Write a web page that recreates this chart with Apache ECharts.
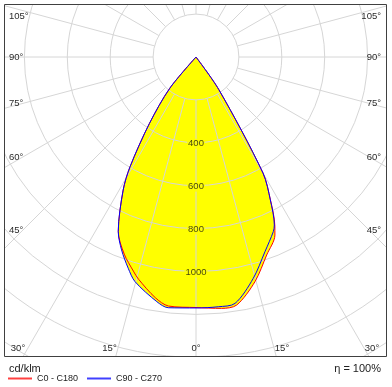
<!DOCTYPE html>
<html><head><meta charset="utf-8">
<script src="https://cdn.jsdelivr.net/npm/echarts@6/dist/echarts.min.js"></script>
<style>html,body{margin:0;padding:0;background:#fff}#c{width:392px;height:387px}</style>
</head><body><div id="c"></div>
<script>
// ---- data (gamma in degrees from nadir, intensity in cd/klm) ----
const c0LeftGamma  = [45, 40, 35, 31, 28.7, 24, 20, 16.3, 14.5, 9.6, 6.3, 0];
const c0LeftI      = [0, 190, 379, 597, 707, 891, 978, 1040, 1070, 1138, 1168, 1168];
const c0RightGamma = [5.8, 9.3, 14.7, 19.65, 23.9, 25, 27.5, 30, 35, 40];
const c0RightI     = [1178, 1172, 1083, 980, 908, 870, 752, 625, 185, 0];
const c90LeftGamma  = [45, 40, 35, 31, 28.7, 24, 21.1, 17.8, 15.2, 9.1, 6.3, 0];
const c90LeftI      = [0, 190, 379, 597, 707, 891, 964, 1034, 1085, 1155, 1176, 1170];
const c90RightGamma = [5.1, 9.0, 14.5, 19.5, 23.9, 25, 27.5, 30, 35, 40];
const c90RightI     = [1169, 1163, 1066, 963, 890, 864, 750, 625, 185, 0];
const radiusTickLabels = [400, 600, 800, 1000];
const leftAngleLabels = ['105°', '90°', '75°', '60°', '45°'];
const rightAngleLabels = ['105°', '90°', '75°', '60°', '45°'];
const bottomAngleLabels = ['30°', '15°', '0°', '15°', '30°'];
const seriesNames = ['C0 - C180', 'C90 - C270'];
const unitLabel = 'cd/klm';
const efficiencyLabel = 'η = 100%';

// ---- layout ----
const S = 0.2145, CX = 196, CY = 57, RMAX = 1800, RMIN_GRID = 200;
const sideY = [16, 57, 103, 157, 230];
const bottomX = [18, 109.5, 196, 282, 372];
const FONT = '"Liberation Sans", Arial, sans-serif';
const SMOOTH = 0.3;

function curve(lg, li, rg, ri) {
  const pts = [];
  lg.forEach((g, i) => pts.push([li[i], g]));
  rg.forEach((g, i) => pts.push([ri[i], 360 - g]));
  return pts;
}
const c0Data = curve(c0LeftGamma, c0LeftI, c0RightGamma, c0RightI);
const c90Data = curve(c90LeftGamma, c90LeftI, c90RightGamma, c90RightI);

const gridLine = { show: true, lineStyle: { color: '#d6d6d6', width: 1 } };
const hidden = { show: false };

const graphics = [
  { type: 'rect', shape: { x: 0, y: 0, width: 392, height: 4.5 }, style: { fill: '#fff' }, z: 50, silent: true },
  { type: 'rect', shape: { x: 0, y: 0, width: 4.5, height: 387 }, style: { fill: '#fff' }, z: 50, silent: true },
  { type: 'rect', shape: { x: 386.5, y: 0, width: 6, height: 387 }, style: { fill: '#fff' }, z: 50, silent: true },
  { type: 'rect', shape: { x: 0, y: 356.5, width: 392, height: 31 }, style: { fill: '#fff' }, z: 50, silent: true },
  { type: 'rect', shape: { x: 4.5, y: 4.5, width: 382, height: 352 }, style: { fill: 'none', stroke: '#404040', lineWidth: 1 }, z: 51, silent: true },
  { type: 'text', x: 9, y: 369, style: { text: unitLabel, fill: '#222', font: '11px ' + FONT, align: 'left', verticalAlign: 'middle' }, z: 60 },
  { type: 'text', x: 381, y: 369, style: { text: efficiencyLabel, fill: '#222', font: '11px ' + FONT, align: 'right', verticalAlign: 'middle' }, z: 60 }
];
const labelStyle = (t, align) => ({ text: t, fill: '#2a2a2a', font: '9.5px ' + FONT, align: align, verticalAlign: 'middle' });
leftAngleLabels.forEach((t, i) => graphics.push({ type: 'text', x: 9, y: sideY[i], style: labelStyle(t, 'left'), z: 60 }));
rightAngleLabels.forEach((t, i) => graphics.push({ type: 'text', x: 381, y: sideY[i], style: labelStyle(t, 'right'), z: 60 }));
bottomAngleLabels.forEach((t, i) => graphics.push({ type: 'text', x: bottomX[i], y: 348, style: labelStyle(t, 'center'), z: 60 }));

const chart = echarts.init(document.getElementById('c'), null, { renderer: 'canvas' });
chart.setOption({
  animation: false,
  backgroundColor: '#fff',
  polar: [
    { center: [CX, CY], radius: [RMIN_GRID * S, RMAX * S] },
    { center: [CX, CY], radius: [0, RMAX * S] }
  ],
  angleAxis: [
    { polarIndex: 0, type: 'value', min: 0, max: 360, interval: 15, startAngle: 270, clockwise: true,
      axisLine: hidden, axisTick: hidden, axisLabel: hidden, splitLine: gridLine, z: 5 },
    { polarIndex: 1, type: 'value', min: 0, max: 360, interval: 15, startAngle: 270, clockwise: true,
      axisLine: hidden, axisTick: hidden, axisLabel: hidden, splitLine: hidden }
  ],
  radiusAxis: [
    { polarIndex: 0, type: 'value', min: RMIN_GRID, max: RMAX, interval: 200,
      axisLine: hidden, axisTick: hidden, axisLabel: hidden, splitLine: gridLine, z: 5 },
    { polarIndex: 1, type: 'value', min: 0, max: RMAX, interval: 200,
      axisLine: hidden, axisTick: hidden, axisLabel: hidden, splitLine: hidden }
  ],
  legend: {
    data: [{ name: seriesNames[0], itemStyle: { color: '#ff4040' } }, { name: seriesNames[1], itemStyle: { color: '#4040ff' } }],
    left: 8, top: 374, padding: 0, icon: 'rect', itemWidth: 24, itemHeight: 2, itemGap: 9,
    selectedMode: false, z: 100,
    textStyle: { fontSize: 9, fontFamily: FONT, color: '#222' }
  },
  series: [
    { name: 'fill0', type: 'line', coordinateSystem: 'polar', polarIndex: 1, data: c0Data, symbol: 'none', smooth: SMOOTH,
      lineStyle: { width: 0, opacity: 0 }, areaStyle: { color: '#ffff00', opacity: 1 }, z: 1, silent: true },
    { name: 'fill1', type: 'line', coordinateSystem: 'polar', polarIndex: 1, data: c90Data, symbol: 'none', smooth: SMOOTH,
      lineStyle: { width: 0, opacity: 0 }, areaStyle: { color: '#ffff00', opacity: 1 }, z: 1, silent: true },
    { name: seriesNames[0], type: 'line', coordinateSystem: 'polar', polarIndex: 1, data: c0Data, symbol: 'none', smooth: SMOOTH,
      color: '#ff0000', lineStyle: { color: '#ff0000', width: 1 }, z: 10 },
    { name: seriesNames[1], type: 'line', coordinateSystem: 'polar', polarIndex: 1, data: c90Data, symbol: 'none', smooth: SMOOTH,
      color: '#0000ff', lineStyle: { color: '#0000ff', width: 1 }, z: 11 },
    { name: 'rlabels', type: 'scatter', coordinateSystem: 'polar', polarIndex: 1,
      data: radiusTickLabels.map(v => [v, 0]), symbolSize: 0, z: 12, silent: true,
      label: { show: true, position: 'inside', offset: [0, 1], formatter: p => String(p.value[0]),
        fontSize: 9.5, fontFamily: FONT, color: '#111', backgroundColor: '#ffff00', padding: [0, 1] } }
  ],
  graphic: graphics
});
</script></body></html>
